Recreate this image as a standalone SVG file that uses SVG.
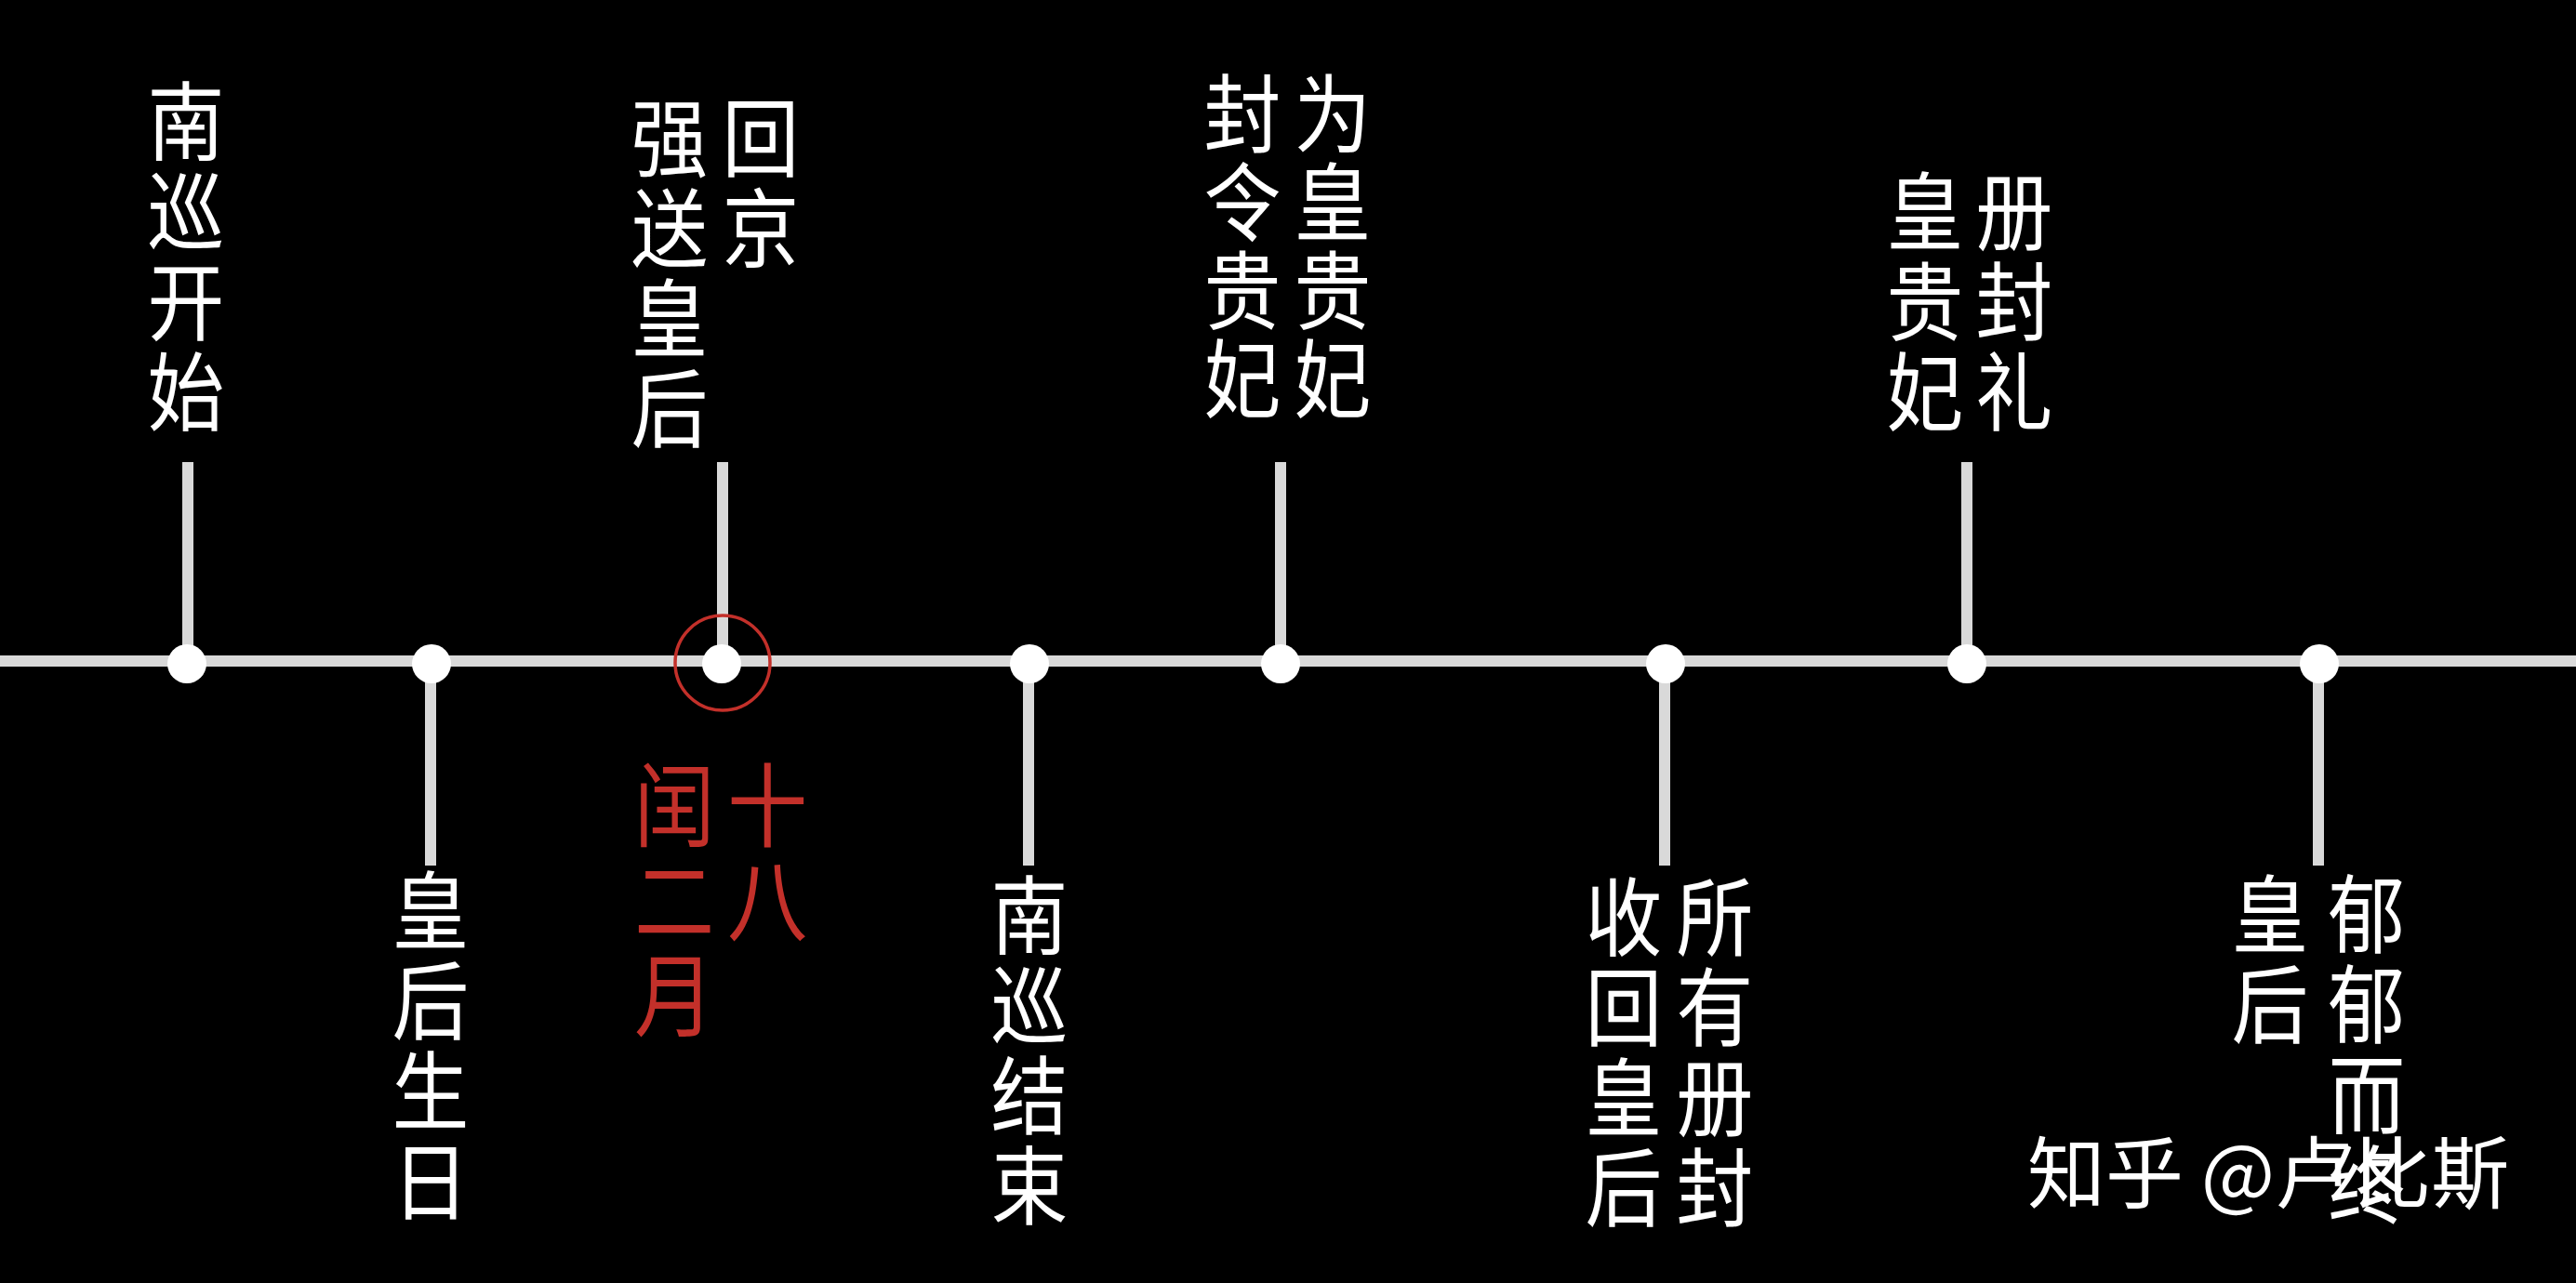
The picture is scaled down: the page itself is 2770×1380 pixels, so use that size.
<svg xmlns="http://www.w3.org/2000/svg" width="2770" height="1380" viewBox="0 0 2770 1380">
<style>
.axis{stroke:#d9d9d9;stroke-width:12;fill:none}
.tick{stroke:#d9d9d9;stroke-width:12;fill:none}
.dot{fill:#ffffff}
.lbl{font-family:"Noto Sans CJK SC","Noto Sans CJK TC",sans-serif;font-size:92px;fill:#ffffff;text-anchor:middle}
.red{font-family:"Noto Sans CJK SC","Noto Sans CJK TC",sans-serif;font-size:98px;fill:#c3302a;text-anchor:middle}
.ring{fill:none;stroke:#c3302a;stroke-width:3.5}
.wm{font-family:"Noto Sans CJK SC","Noto Sans CJK TC",sans-serif;font-size:84px;fill:#ffffff}
</style>
<rect x="0" y="0" width="2770" height="1380" fill="#000000"/>
<g id="connectors">
<line class="axis" x1="0" y1="711" x2="2770" y2="711"/>
<line class="tick" x1="202" y1="497" x2="202" y2="711"/>
<line class="tick" x1="777" y1="497" x2="777" y2="711"/>
<line class="tick" x1="1377" y1="497" x2="1377" y2="711"/>
<line class="tick" x1="2115" y1="497" x2="2115" y2="711"/>
<line class="tick" x1="463" y1="711" x2="463" y2="931"/>
<line class="tick" x1="1106" y1="711" x2="1106" y2="931"/>
<line class="tick" x1="1790" y1="711" x2="1790" y2="931"/>
<line class="tick" x1="2493" y1="711" x2="2493" y2="931"/>
</g>
<g id="node-nanxun-start">
<circle class="dot" cx="201" cy="714" r="21"/>
<g transform="translate(200 0) scale(0.9 1)"><text class="lbl"><tspan x="0" y="165">南</tspan><tspan x="0" y="262">巡</tspan><tspan x="0" y="359">开</tspan><tspan x="0" y="456">始</tspan></text></g>
</g>
<g id="node-birthday">
<circle class="dot" cx="464" cy="714" r="21"/>
<g transform="translate(463 0) scale(0.9 1)"><text class="lbl"><tspan x="0" y="1014">皇</tspan><tspan x="0" y="1111">后</tspan><tspan x="0" y="1208">生</tspan><tspan x="0" y="1305">日</tspan></text></g>
</g>
<g id="node-return">
<circle class="dot" cx="776" cy="714" r="21"/>
<circle class="ring" cx="777" cy="713" r="51"/>
<g transform="translate(720 0) scale(0.9 1)"><text class="lbl"><tspan x="0" y="183">强</tspan><tspan x="0" y="280">送</tspan><tspan x="0" y="377">皇</tspan><tspan x="0" y="474">后</tspan></text></g>
<g transform="translate(818 0) scale(0.9 1)"><text class="lbl"><tspan x="0" y="183">回</tspan><tspan x="0" y="280">京</tspan></text></g>
<g transform="translate(725 0) scale(0.88 1)"><text class="red"><tspan x="0" y="903">闰</tspan><tspan x="0" y="1005">二</tspan><tspan x="0" y="1107">月</tspan></text></g>
<g transform="translate(825 0) scale(0.88 1)"><text class="red"><tspan x="0" y="903">十</tspan><tspan x="0" y="1005">八</tspan></text></g>
</g>
<g id="node-nanxun-end">
<circle class="dot" cx="1107" cy="714" r="21"/>
<g transform="translate(1107 0) scale(0.9 1)"><text class="lbl"><tspan x="0" y="1019">南</tspan><tspan x="0" y="1116">巡</tspan><tspan x="0" y="1213">结</tspan><tspan x="0" y="1310">束</tspan></text></g>
</g>
<g id="node-promote">
<circle class="dot" cx="1377" cy="714" r="21"/>
<g transform="translate(1336 0) scale(0.9 1)"><text class="lbl"><tspan x="0" y="157">封</tspan><tspan x="0" y="252">令</tspan><tspan x="0" y="347">贵</tspan><tspan x="0" y="442">妃</tspan></text></g>
<g transform="translate(1433 0) scale(0.9 1)"><text class="lbl"><tspan x="0" y="157">为</tspan><tspan x="0" y="252">皇</tspan><tspan x="0" y="347">贵</tspan><tspan x="0" y="442">妃</tspan></text></g>
</g>
<g id="node-revoke">
<circle class="dot" cx="1791" cy="714" r="21"/>
<g transform="translate(1746 0) scale(0.9 1)"><text class="lbl"><tspan x="0" y="1021">收</tspan><tspan x="0" y="1118">回</tspan><tspan x="0" y="1215">皇</tspan><tspan x="0" y="1312">后</tspan></text></g>
<g transform="translate(1844 0) scale(0.9 1)"><text class="lbl"><tspan x="0" y="1021">所</tspan><tspan x="0" y="1118">有</tspan><tspan x="0" y="1215">册</tspan><tspan x="0" y="1312">封</tspan></text></g>
</g>
<g id="node-ceremony">
<circle class="dot" cx="2115" cy="714" r="21"/>
<g transform="translate(2070 0) scale(0.9 1)"><text class="lbl"><tspan x="0" y="262">皇</tspan><tspan x="0" y="359">贵</tspan><tspan x="0" y="456">妃</tspan></text></g>
<g transform="translate(2166 0) scale(0.9 1)"><text class="lbl"><tspan x="0" y="262">册</tspan><tspan x="0" y="359">封</tspan><tspan x="0" y="456">礼</tspan></text></g>
</g>
<g id="node-death">
<circle class="dot" cx="2494" cy="714" r="21"/>
<g transform="translate(2441 0) scale(0.9 1)"><text class="lbl"><tspan x="0" y="1018">皇</tspan><tspan x="0" y="1115">后</tspan></text></g>
<g transform="translate(2545 0) scale(0.9 1)"><text class="lbl"><tspan x="0" y="1018">郁</tspan><tspan x="0" y="1115">郁</tspan><tspan x="0" y="1212">而</tspan><tspan x="0" y="1309">终</tspan></text></g>
</g>
<g id="watermark">
<text class="wm" x="2180" y="1293">知乎 @卢比斯</text>
</g>
</svg>
